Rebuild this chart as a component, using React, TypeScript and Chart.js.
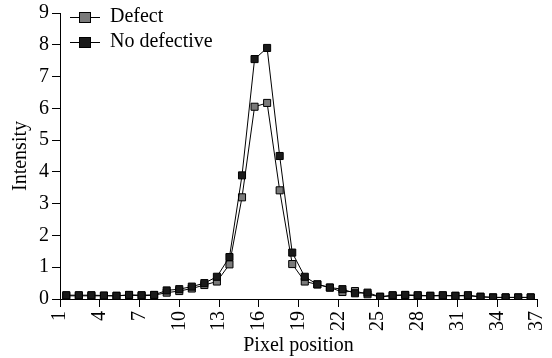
import React, { useEffect, useRef } from 'react';
import { Chart, registerables } from 'chart.js';

Chart.register(...registerables);

// Sample index along the scan line (hidden category axis)
const sampleLabels = [
  '1', '2', '3', '4', '5', '6', '7', '8', '9', '10',
  '11', '12', '13', '14', '15', '16', '17', '18', '19', '20',
  '21', '22', '23', '24', '25', '26', '27', '28', '29', '30',
  '31', '32', '33', '34', '35', '36', '37', '38',
];

const defectValues = [
  0.1, 0.1, 0.1, 0.1, 0.1, 0.12, 0.1, 0.12, 0.2, 0.25,
  0.33, 0.44, 0.55, 1.09, 3.2, 6.05, 6.17, 3.42, 1.1, 0.55,
  0.46, 0.36, 0.22, 0.25, 0.15, 0.07, 0.1, 0.12, 0.1, 0.1,
  0.1, 0.1, 0.1, 0.07, 0.05, 0.05, 0.05, 0.05,
];

const noDefectiveValues = [
  0.12, 0.12, 0.12, 0.11, 0.1, 0.13, 0.12, 0.13, 0.27, 0.31,
  0.39, 0.5, 0.7, 1.32, 3.89, 7.55, 7.9, 4.5, 1.46, 0.7,
  0.46, 0.36, 0.31, 0.18, 0.2, 0.07, 0.12, 0.13, 0.12, 0.1,
  0.12, 0.1, 0.12, 0.07, 0.05, 0.05, 0.05, 0.05,
];

const seriesNames = ['Defect', 'No defective'];

const xTickMin = 1;
const xTickMax = 37;
const xTickStep = 3;
const yMin = 0;
const yMax = 9;

const FONT = '"Liberation Serif"';

const lineLegend = {
  id: 'lineLegend',
  afterDraw(chart: any) {
    const ctx = chart.ctx;
    const left = chart.chartArea.left;
    const rows = [17, 42];
    ctx.save();
    chart.data.datasets.forEach((ds: any, i: number) => {
      const y = rows[i];
      ctx.strokeStyle = '#000';
      ctx.lineWidth = 1;
      ctx.beginPath();
      ctx.moveTo(left + 10, y + 0.5);
      ctx.lineTo(left + 40, y + 0.5);
      ctx.stroke();
      ctx.fillStyle = ds.pointBackgroundColor;
      ctx.fillRect(left + 19.5, y - 4.5, 11, 10);
      ctx.strokeRect(left + 19.5, y - 4.5, 11, 10);
      ctx.fillStyle = '#000';
      ctx.font = `20px ${FONT}`;
      ctx.textBaseline = 'middle';
      ctx.textAlign = 'left';
      ctx.fillText(ds.label, left + 50, y);
    });
    ctx.restore();
  },
};

export default function App() {
  const canvasRef = useRef<HTMLCanvasElement | null>(null);

  useEffect(() => {
    if (!canvasRef.current) return;
    Chart.defaults.font.family = FONT;
    Chart.defaults.font.size = 20;
    Chart.defaults.color = '#000';

    const chart = new Chart(canvasRef.current, {
      type: 'line',
      data: {
        labels: sampleLabels,
        datasets: [
          {
            label: seriesNames[0],
            data: defectValues,
            xAxisID: 'x',
            yAxisID: 'y',
            order: 1,
            borderColor: '#000',
            borderWidth: 1,
            pointStyle: 'rect',
            pointRadius: 5,
            pointBorderWidth: 1,
            pointBorderColor: '#000',
            pointBackgroundColor: '#7a7a7a',
            tension: 0,
          },
          {
            label: seriesNames[1],
            data: noDefectiveValues,
            xAxisID: 'x',
            yAxisID: 'y',
            order: 0,
            borderColor: '#000',
            borderWidth: 1,
            pointStyle: 'rect',
            pointRadius: 5,
            pointBorderWidth: 1,
            pointBorderColor: '#000',
            pointBackgroundColor: '#1a1a1a',
            tension: 0,
          },
        ],
      },
      options: {
        responsive: false,
        animation: false,
        layout: { padding: { top: 13, right: 15, left: 0, bottom: 0 } },
        plugins: {
          legend: { display: false },
          tooltip: { enabled: false },
        },
        scales: {
          x: {
            type: 'category',
            display: false,
            offset: true,
          },
          xTicks: {
            type: 'linear',
            position: 'bottom',
            min: xTickMin,
            max: xTickMax,
            afterFit: (scale: any) => {
              scale.height = 59;
              scale.paddingLeft = 0;
              scale.paddingRight = 0;
            },
            ticks: {
              stepSize: xTickStep,
              minRotation: 90,
              maxRotation: 90,
              padding: 4,
              color: '#000',
              font: { size: 20, family: FONT },
            },
            grid: {
              display: true,
              drawOnChartArea: false,
              drawTicks: true,
              tickLength: 8,
              color: '#000',
            },
            border: { display: true, color: '#000', width: 1 },
            title: {
              display: true,
              text: 'Pixel position',
              color: '#000',
              font: { size: 20, family: FONT },
              padding: { top: 0, bottom: 0 },
            },
          },
          y: {
            type: 'linear',
            min: yMin,
            max: yMax,
            afterFit: (scale: any) => {
              scale.width = 60;
              scale.paddingTop = 0;
              scale.paddingBottom = 0;
            },
            ticks: {
              stepSize: 1,
              padding: 3,
              color: '#000',
              font: { size: 20, family: FONT },
            },
            grid: {
              display: true,
              drawOnChartArea: false,
              drawTicks: true,
              tickLength: 8,
              color: '#000',
            },
            border: { display: true, color: '#000', width: 1 },
            title: {
              display: true,
              text: 'Intensity',
              color: '#000',
              font: { size: 20, family: FONT },
              padding: { top: 9, bottom: 0 },
            },
          },
        },
      },
      plugins: [lineLegend],
    } as any);

    return () => chart.destroy();
  }, []);

  return (
    <div style={{ position: 'absolute', left: 0, top: 0, width: 552, height: 358, background: '#fff' }}>
      <canvas ref={canvasRef} width={552} height={358} />
    </div>
  );
}
